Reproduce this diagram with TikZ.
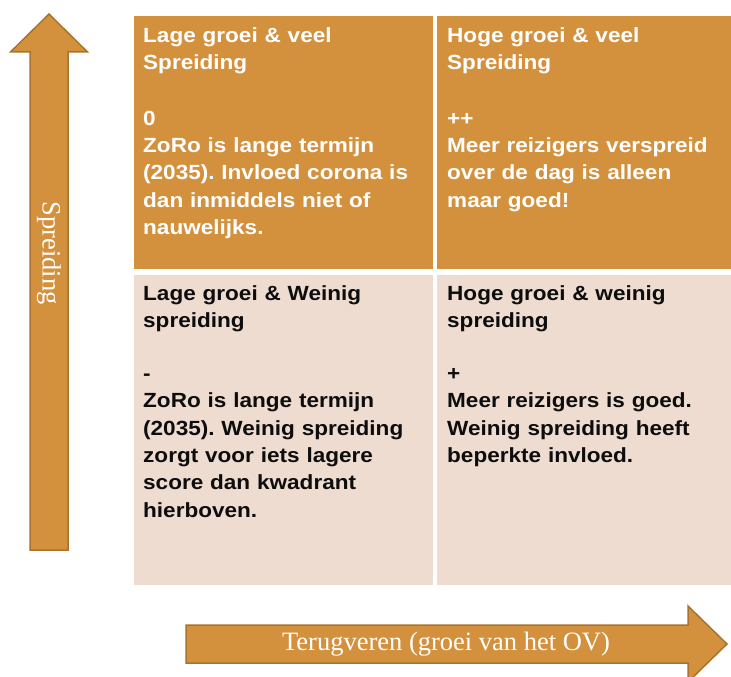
\documentclass[tikz,border=0pt]{standalone}
\usepackage{fontspec}
\setmainfont{Liberation Serif}
\newfontfamily\cellfont[FakeStretch=1.1]{Liberation Sans}
\frenchspacing
\definecolor{orangeA}{HTML}{D4913D}
\definecolor{pinkA}{HTML}{EFDCD0}
\definecolor{arrowedge}{HTML}{A8732F}
\definecolor{darktext}{HTML}{0D0D0D}
\tikzset{
  cellbox/.style={inner sep=0pt, anchor=base west, align=left, text width=290pt,
    font=\cellfont\bfseries\fontsize{20.5}{27.3}\selectfont},
  bigarrow/.style={fill=orangeA, draw=arrowedge, line width=1.5pt, line join=miter},
  arrowtext/.style={text=white, inner sep=0pt, font=\fontsize{26.5}{30}\selectfont}
}
\begin{document}
\begin{tikzpicture}[x=1pt,y=-1pt]
\useasboundingbox (0,0) rectangle (731,677);
\clip (0,0) rectangle (731,677);
% quadrants
\fill[orangeA] (134,16) rectangle (433,269);
\fill[orangeA] (437,16) rectangle (731,269);
\fill[pinkA] (134,275) rectangle (433,585);
\fill[pinkA] (437,275) rectangle (731,585);
% texts
\node[cellbox, text=white] (ul) at (143,42.3) {Lage groei \& veel\\Spreiding\\[28.4pt]0\\ZoRo is lange termijn\\(2035). Invloed corona is\\dan inmiddels niet of\\nauwelijks.};
\node[cellbox, text=white] (ur) at (447,42.3) {Hoge groei \& veel\\Spreiding\\[28.4pt]++\\Meer reizigers verspreid\\over de dag is alleen\\maar goed!};
\node[cellbox, text=darktext] (ll) at (143,300) {Lage groei \& Weinig\\spreiding\\[26pt]-\\ZoRo is lange termijn\\(2035). Weinig spreiding\\zorgt voor iets lagere\\score dan kwadrant\\hierboven.};
\node[cellbox, text=darktext] (lr) at (447,300) {Hoge groei \& weinig\\spreiding\\[26pt]+\\Meer reizigers is goed.\\Weinig spreiding heeft\\beperkte invloed.};
% vertical arrow
\draw[bigarrow] (30,550) -- (30,52) -- (10.5,52) -- (49,14) -- (87.5,52) -- (68,52) -- (68,550) -- cycle;
\node[arrowtext, rotate=-90] (spreiding) at (49,253) {Spreiding};
% horizontal arrow
\draw[bigarrow] (186,625) -- (688,625) -- (688,606) -- (727,644) -- (688,682) -- (688,663) -- (186,663) -- cycle;
\node[arrowtext] (terug) at (446,644) {Terugveren (groei van het OV)};
\end{tikzpicture}
\end{document}
